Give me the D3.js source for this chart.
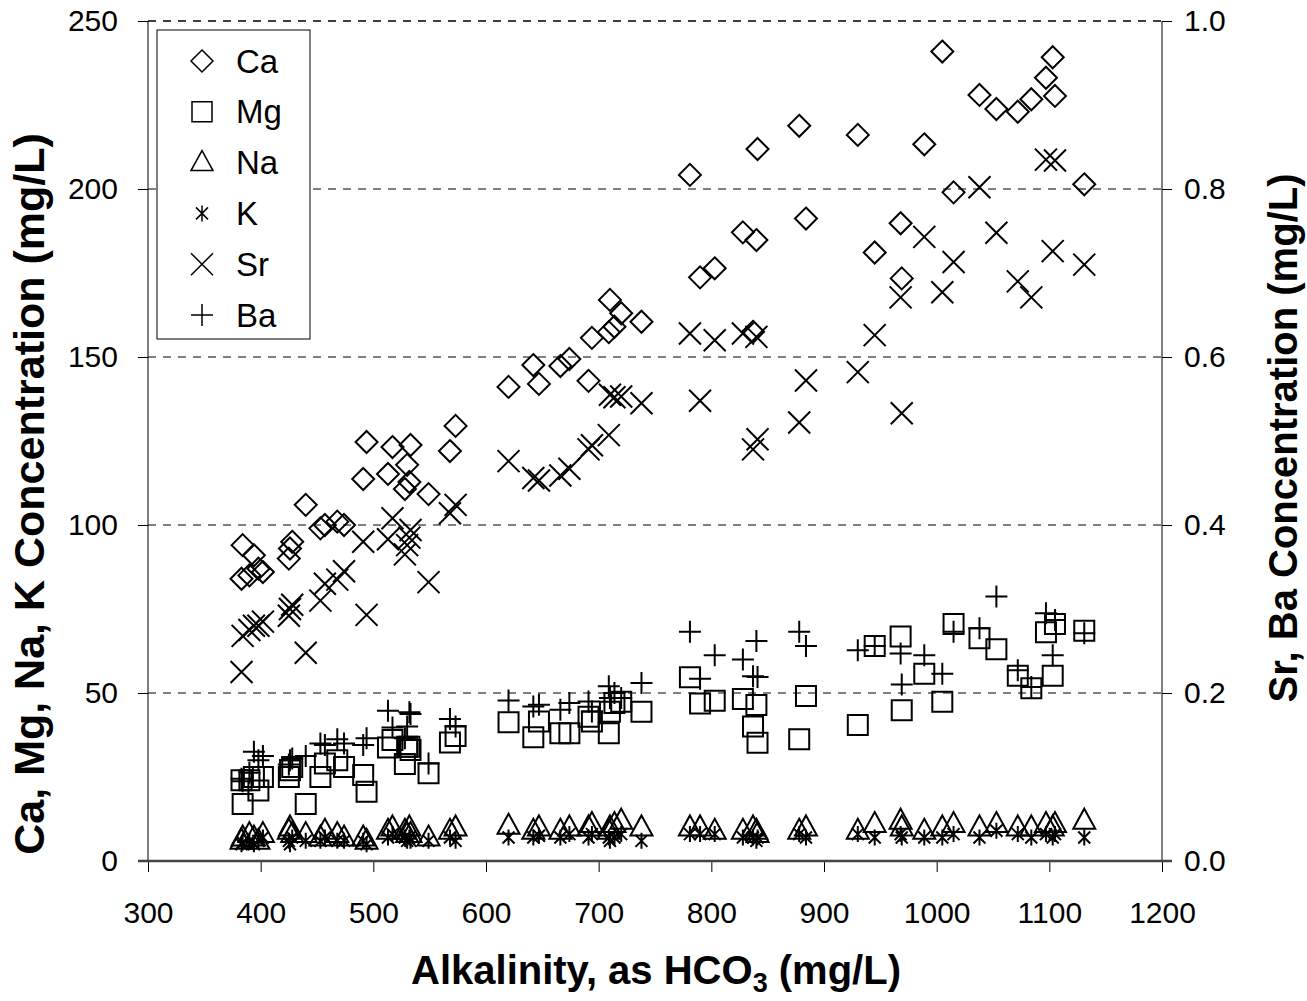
<!DOCTYPE html>
<html>
<head>
<meta charset="utf-8">
<script src="https://cdn.jsdelivr.net/npm/d3@7"></script>
<style>
  body { margin: 0; background: #fff; }
  text { font-family: "Liberation Sans", Arial, sans-serif; }
</style>
</head>
<body>
<svg id="chart" width="1307" height="1001"></svg>
<script>
// one entry per water sample
const alk = [383, 384, 390, 394, 398, 402, 425, 426, 428, 440, 453, 457, 468, 474, 491, 494, 513, 517, 528, 530, 532, 533, 549, 568, 573,
  620, 642, 647, 666, 674, 691, 694, 709, 710, 714, 720, 738,
  781, 790, 803, 828, 837, 840, 841, 878, 884, 930, 945, 968, 969, 989, 1005, 1015, 1038, 1053, 1072, 1084, 1097, 1103, 1105, 1131];
const ca = [84, 94, 85, 91, 87, 86, 90, 93, 95, 106, 99, 100, 101, 100, 113.7, 124.7, 115.2, 123.2, 110.7, 117.9, 112.8, 123.8, 109.2, 122, 129.5,
  141.1, 147.6, 142, 147.3, 149.4, 142.9, 155.7, 157.4, 167, 159, 163, 160.5,
  204.2, 173.7, 176.4, 187.1, 157.5, 184.8, 211.9, 218.8, 191.2, 216.1, 181.1, 189.8, 173.4, 213.3, 240.9, 199, 228, 223.8, 223, 226.7, 233.1, 239.2, 227.7, 201.4];
const mg = [24, 17, 24, 25, 21, 25, 25, 27, 28, 17, 25, 29, 30, 28, 25.6, 20.6, 33.8, 36, 28.9, 34, 34, 33, 26.1, 35.3, 37.2,
  41.3, 36.8, 41.5, 38, 38, 42.9, 41.5, 38, 44.4, 47, 47.4, 44.4,
  54.7, 46.9, 47.7, 48.2, 40, 46.4, 35.2, 36.2, 49.1, 40.5, 64, 66.8, 44.9, 55.7, 47.4, 70.5, 66.3, 63, 55.1, 51.4, 68.1, 55.1, 70.5, 68.5];
const na = [6, 7, 8, 7, 6, 8, 9, 10, 8, 8, 7, 9, 8, 7, 7, 6, 9, 10, 9, 8, 10, 8, 7, 9, 10,
  10.5, 9, 10, 9, 10, 10, 11, 9, 10, 11, 12, 10,
  10, 10, 9, 9, 10, 9, 8, 9, 10, 9, 11, 12, 10, 9, 10, 11, 10, 11, 10, 10, 11, 10, 11, 12];
const k = [5, 5.5, 6, 5, 6, 7, 6, 5, 7, 6, 6, 7, 6, 6, 6, 5, 7, 8, 7, 6, 7, 6, 6, 7, 6,
  7, 7, 7.5, 7, 8, 7, 8, 7, 6, 7, 8, 6,
  8, 8, 8, 7, 7, 6, 7, 8, 7, 8, 7, 8, 7, 7, 7, 8, 7, 9, 8, 7, 8, 7, 8, 7];
const sr = [0.225, 0.268, 0.275, 0.28, 0.28, 0.285, 0.292, 0.3, 0.305, 0.248, 0.31, 0.33, 0.335, 0.345, 0.38, 0.293, 0.383, 0.408, 0.365, 0.376, 0.385, 0.394, 0.332, 0.414, 0.424,
  0.476, 0.456, 0.453, 0.459, 0.467, 0.49, 0.495, 0.507, 0.555, 0.552, 0.553, 0.545,
  0.628, 0.548, 0.62, 0.628, 0.49, 0.624, 0.502, 0.522, 0.572, 0.582, 0.626, 0.671, 0.533, 0.743, 0.677, 0.713, 0.802, 0.748, 0.69, 0.671, 0.835, 0.726, 0.834, 0.71];
const ba = [0.098, 0.095, 0.105, 0.13, 0.12, 0.125, 0.115, 0.12, 0.122, 0.125, 0.14, 0.138, 0.145, 0.14, 0.138, 0.146, 0.179, 0.159, 0.146, 0.16, 0.177, 0.175, 0.116, 0.169, 0.16,
  0.191, 0.184, 0.186, 0.18, 0.188, 0.19, 0.178, 0.208, 0.194, 0.2, 0.194, 0.212,
  0.273, 0.217, 0.245, 0.24, 0.22, 0.262, 0.219, 0.273, 0.256, 0.251, 0.256, 0.247, 0.21, 0.245, 0.223, 0.273, 0.277, 0.315, 0.227, 0.207, 0.295, 0.245, 0.287, 0.271];

const xTicks = [300, 400, 500, 600, 700, 800, 900, 1000, 1100, 1200];
const leftTicks = [0, 50, 100, 150, 200, 250];
const rightTicks = [0, 0.2, 0.4, 0.6, 0.8, 1.0];

const svg = d3.select("#chart");
const L = 148, R = 1162, T = 21, B = 861;
const x = d3.scaleLinear().domain([300, 1200]).range([L, R]);
const y = d3.scaleLinear().domain([0, 250]).range([B, T]);
const y2 = d3.scaleLinear().domain([0, 1]).range([B, T]);

// marker shapes, centred on 0,0
const shapes = {
  diamond: "M0,-11L11,0L0,11L-11,0Z",
  square: "M-10,-10H10V10H-10Z",
  triangle: "M0,-12L11,8H-11Z",
  asterisk: "M0,-8V8M-6,-6L6,6M-6,6L6,-6",
  cross: "M-11,-11L11,11M-11,11L11,-11",
  plus: "M-11,0H11M0,-11V11"
};

const series = [
  { name: "Ca", vals: ca, shape: "diamond", sc: y },
  { name: "Mg", vals: mg, shape: "square", sc: y },
  { name: "Na", vals: na, shape: "triangle", sc: y },
  { name: "K", vals: k, shape: "asterisk", sc: y },
  { name: "Sr", vals: sr, shape: "cross", sc: y2 },
  { name: "Ba", vals: ba, shape: "plus", sc: y2 }
];

// grid
svg.append("g").selectAll("line").data([50, 100, 150, 200, 250]).join("line")
  .attr("x1", L).attr("x2", R).attr("y1", d => y(d)).attr("y2", d => y(d))
  .attr("stroke", "#000").attr("stroke-width", d => d === 250 ? 1.5 : 1)
  .attr("stroke-dasharray", "8,7");

// points
series.forEach(s => {
  svg.append("g").selectAll("path").data(alk).join("path")
    .attr("d", shapes[s.shape])
    .attr("transform", (a, i) => `translate(${x(a)},${s.sc(s.vals[i])})`)
    .attr("fill", "none").attr("stroke", "#000").attr("stroke-width", 2);
});

// axes
const fmtAxis = g => {
  g.select(".domain").remove();
  g.selectAll("text").attr("font-size", 30).attr("fill", "#000")
    .attr("font-family", '"Liberation Sans", Arial, sans-serif');
  g.selectAll(".tick line").attr("stroke", "#000");
};
svg.append("g").attr("transform", `translate(${L},0)`)
  .call(d3.axisLeft(y).tickValues(leftTicks).tickSize(10).tickPadding(20).tickFormat(d3.format("d")))
  .call(fmtAxis);
svg.append("g").attr("transform", `translate(${R},0)`)
  .call(d3.axisRight(y2).tickValues(rightTicks).tickSize(10).tickPadding(12).tickFormat(d3.format(".1f")))
  .call(fmtAxis);
svg.append("g").attr("transform", `translate(0,${B})`)
  .call(d3.axisBottom(x).tickValues(xTicks).tickSize(11).tickPadding(30).tickFormat(d3.format("d")))
  .call(fmtAxis);

svg.append("line").attr("x1", L).attr("x2", L).attr("y1", T).attr("y2", B).attr("stroke", "#000");
svg.append("line").attr("x1", R).attr("x2", R).attr("y1", T).attr("y2", B).attr("stroke", "#000");
svg.append("line").attr("x1", L - 10).attr("x2", R + 10).attr("y1", B).attr("y2", B)
  .attr("stroke", "#444").attr("stroke-width", 2.5);

// legend
const lg = svg.append("g");
lg.append("rect").attr("x", 157).attr("y", 30).attr("width", 153).attr("height", 309)
  .attr("fill", "#fff").attr("stroke", "#000");
series.forEach((s, i) => {
  const cy = 61 + i * 50.8;
  lg.append("path").attr("d", shapes[s.shape]).attr("transform", `translate(202,${cy})`)
    .attr("fill", "none").attr("stroke", "#000").attr("stroke-width", 1.5);
  lg.append("text").attr("x", 236).attr("y", cy).attr("dy", "0.35em")
    .attr("font-size", 33).text(s.name);
});

// titles
svg.append("text").attr("transform", "translate(44,494) rotate(-90)")
  .attr("text-anchor", "middle").attr("font-size", 43).attr("font-weight", "bold")
  .text("Ca, Mg, Na, K Concentration (mg/L)");
svg.append("text").attr("transform", "translate(1297,438) rotate(-90)")
  .attr("text-anchor", "middle").attr("font-size", 40).attr("font-weight", "bold")
  .text("Sr, Ba Concentration (mg/L)");
const xt = svg.append("text").attr("x", 656).attr("y", 984)
  .attr("text-anchor", "middle").attr("font-size", 40).attr("font-weight", "bold");
xt.append("tspan").text("Alkalinity, as HCO");
xt.append("tspan").attr("font-size", 27).attr("dy", 8).text("3");
xt.append("tspan").attr("dy", -8).text(" (mg/L)");
</script>
</body>
</html>
